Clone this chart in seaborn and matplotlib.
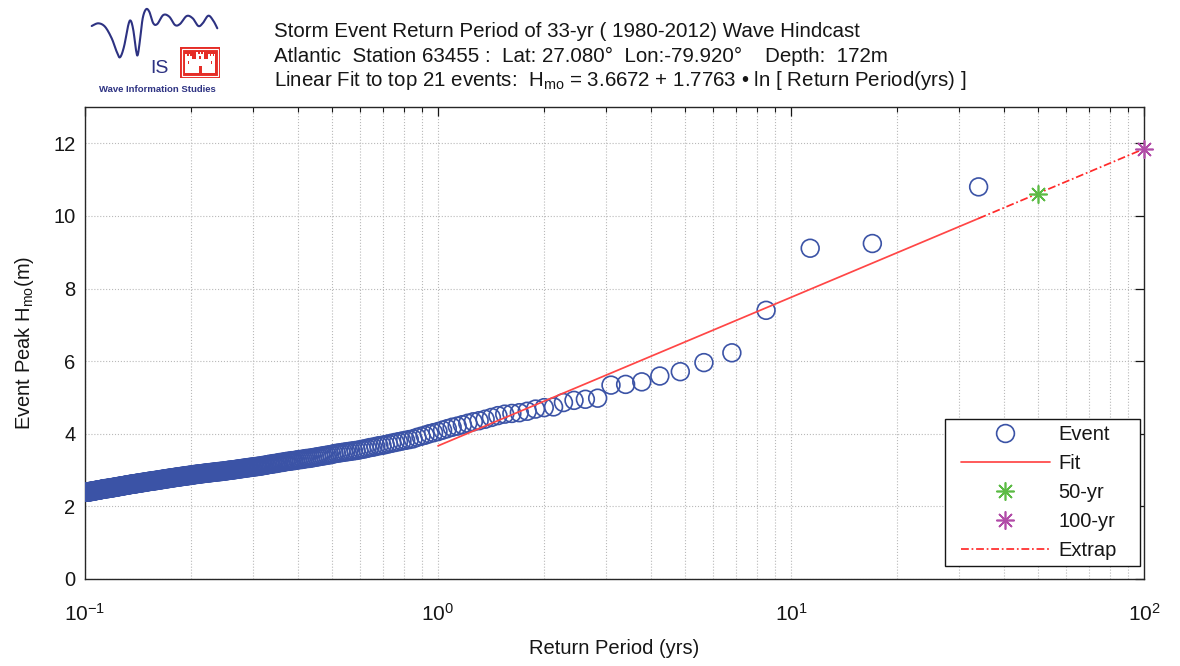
import numpy as np
import pandas as pd
import matplotlib
matplotlib.use("Agg")
import matplotlib.pyplot as plt
import seaborn as sns
from matplotlib.lines import Line2D
from matplotlib.patches import Rectangle
from matplotlib.path import Path
from matplotlib.ticker import (FixedLocator, LogLocator, NullFormatter,
                               LogFormatterSciNotation)

# ---------------- record description ----------------
region = "Atlantic"
station_id = 63455
latitude = 27.080
longitude = -79.920
depth_m = 172
first_year, last_year = 1980, 2012
years_of_record = 33

# ---------------- storm peak wave heights, largest first (m) ----------------
hmo_sorted = [
    10.80, 9.24, 9.11, 7.40, 6.23, 5.96, 5.71, 5.59, 5.43, 5.36,
    5.34, 4.98, 4.95, 4.92, 4.86, 4.74, 4.72, 4.68, 4.62, 4.58,
    4.56, 4.54, 4.50, 4.45, 4.40, 4.36, 4.33, 4.29, 4.25, 4.21,
    4.18, 4.14, 4.10, 4.06, 4.03, 4.00, 3.96, 3.93, 3.90, 3.86,
    3.84, 3.82, 3.80, 3.78, 3.76, 3.74, 3.72, 3.70, 3.68, 3.67,
    3.65, 3.63, 3.62, 3.60, 3.58, 3.57, 3.55, 3.54, 3.53, 3.52,
    3.51, 3.50, 3.49, 3.48, 3.47, 3.46, 3.45, 3.43, 3.42, 3.41,
    3.40, 3.39, 3.38, 3.37, 3.36, 3.35, 3.34, 3.33, 3.32, 3.32,
    3.31, 3.30, 3.29, 3.29, 3.28, 3.27, 3.26, 3.26, 3.25, 3.24,
    3.24, 3.23, 3.22, 3.21, 3.21, 3.20, 3.19, 3.18, 3.18, 3.17,
    3.16, 3.16, 3.15, 3.14, 3.13, 3.13, 3.12, 3.11, 3.11, 3.10,
    3.10, 3.09, 3.09, 3.08, 3.08, 3.07, 3.07, 3.06, 3.06, 3.05,
    3.05, 3.04, 3.04, 3.03, 3.03, 3.02, 3.02, 3.01, 3.01, 3.00,
    3.00, 3.00, 2.99, 2.99, 2.98, 2.98, 2.97, 2.97, 2.97, 2.96,
    2.96, 2.96, 2.95, 2.95, 2.95, 2.94, 2.94, 2.94, 2.93, 2.93,
    2.93, 2.92, 2.92, 2.92, 2.91, 2.91, 2.91, 2.90, 2.90, 2.90,
    2.89, 2.89, 2.89, 2.88, 2.88, 2.88, 2.87, 2.87, 2.86, 2.86,
    2.86, 2.85, 2.85, 2.85, 2.84, 2.84, 2.84, 2.83, 2.83, 2.83,
    2.82, 2.82, 2.82, 2.81, 2.81, 2.81, 2.80, 2.80, 2.80, 2.79,
    2.79, 2.79, 2.78, 2.78, 2.78, 2.77, 2.77, 2.77, 2.76, 2.76,
    2.76, 2.75, 2.75, 2.75, 2.74, 2.74, 2.74, 2.73, 2.73, 2.73,
    2.72, 2.72, 2.72, 2.71, 2.71, 2.71, 2.71, 2.70, 2.70, 2.70,
    2.69, 2.69, 2.69, 2.69, 2.68, 2.68, 2.68, 2.67, 2.67, 2.67,
    2.66, 2.66, 2.66, 2.66, 2.65, 2.65, 2.65, 2.64, 2.64, 2.64,
    2.64, 2.63, 2.63, 2.63, 2.62, 2.62, 2.62, 2.62, 2.61, 2.61,
    2.61, 2.61, 2.60, 2.60, 2.60, 2.59, 2.59, 2.59, 2.59, 2.58,
    2.58, 2.58, 2.57, 2.57, 2.57, 2.57, 2.56, 2.56, 2.56, 2.55,
    2.55, 2.55, 2.55, 2.54, 2.54, 2.54, 2.53, 2.53, 2.53, 2.53,
    2.52, 2.52, 2.52, 2.52, 2.51, 2.51, 2.51, 2.51, 2.50, 2.50,
    2.50, 2.50, 2.49, 2.49, 2.49, 2.49, 2.49, 2.49, 2.48, 2.48,
    2.48, 2.48, 2.47, 2.47, 2.47, 2.46, 2.46, 2.46, 2.46, 2.45,
    2.45, 2.45, 2.45, 2.44, 2.44, 2.44, 2.44, 2.43, 2.43, 2.43,
    2.43, 2.42, 2.42, 2.42, 2.42, 2.41, 2.41, 2.41, 2.41, 2.41,
    2.40, 2.40, 2.40, 2.40, 2.40, 2.39, 2.39, 2.39, 2.39, 2.39,
]

# ---------------- log-linear fit: Hmo = a + b * ln(T) ----------------
n_fit_events = 21
fit_intercept = 3.6672
fit_slope = 1.7763
fit_start_period = 1.0
design_periods = [50, 100]
design_labels = ["50-yr", "100-yr"]

# ---------------- axes ----------------
x_limits = (0.1, 100)
y_limits = (0, 13)
x_ticks = [0.1, 1, 10, 100]
y_ticks = [0, 2, 4, 6, 8, 10, 12]

# ---------------- styling ----------------
event_blue = "#3b53a6"
fit_red = "#ff4646"
extrap_red = "#ff2a2a"
green_50 = "#5cbb45"
magenta_100 = "#b24ca8"
navy = "#2d3282"
castle_red = "#e52d27"
text_color = "#161616"
grid_color = "#b9b9b9"

sns.set_style("white")
plt.rcParams["font.family"] = ["Liberation Sans", "DejaVu Sans"]
plt.rcParams["mathtext.fontset"] = "custom"
plt.rcParams["mathtext.rm"] = "Liberation Sans"
plt.rcParams["mathtext.it"] = "Liberation Sans:italic"
plt.rcParams["mathtext.bf"] = "Liberation Sans:bold"
plt.rcParams["mathtext.sf"] = "Liberation Sans"
plt.rcParams["mathtext.default"] = "regular"
plt.rcParams["axes.unicode_minus"] = True

W, H = 1180, 666
fig = plt.figure(figsize=(W / 100, H / 100), dpi=100)
fig.patch.set_facecolor("white")

# main axes, placed in pixel terms
ax_l, ax_r, ax_t, ax_b = 85, 1144, 107, 579
ax = fig.add_axes([ax_l / W, 1 - ax_b / H, (ax_r - ax_l) / W, (ax_b - ax_t) / H])

# ---------------- data frames ----------------
hmo = np.asarray(hmo_sorted)
rank = np.arange(1, len(hmo) + 1)
period = (years_of_record + 1) / rank
events = pd.DataFrame({"period": period, "hmo": hmo})

t_top = period.max()
fit_T = np.geomspace(fit_start_period, t_top, 80)
fit_df = pd.DataFrame({"period": fit_T,
                       "hmo": fit_intercept + fit_slope * np.log(fit_T)})
ext_T = np.geomspace(t_top, max(design_periods), 60)
ext_df = pd.DataFrame({"period": ext_T,
                       "hmo": fit_intercept + fit_slope * np.log(ext_T)})
design_h = [fit_intercept + fit_slope * np.log(p) for p in design_periods]

ax.set_xscale("log")

# events
event_size = 12.8  # marker diameter in points
sns.scatterplot(data=events, x="period", y="hmo", ax=ax, marker="o",
                s=event_size ** 2, facecolor="none", edgecolor=event_blue,
                linewidth=1.2, legend=False, zorder=3)

# fitted line and its extrapolation
dash_dot = (0, (4.5, 1.6, 1.0, 1.6))
sns.lineplot(data=fit_df, x="period", y="hmo", ax=ax, color=fit_red,
             linewidth=1.25, zorder=4)
sns.lineplot(data=ext_df, x="period", y="hmo", ax=ax, color=extrap_red,
             linewidth=1.25, linestyle=dash_dot, zorder=4)

# design return-period estimates
asterisk = (8, 2, 0)
for p, h, c in zip(design_periods, design_h, [green_50, magenta_100]):
    ax.plot([p], [h], linestyle="none", marker=asterisk, markersize=13,
            markeredgewidth=1.2, color=c, clip_on=False, zorder=6)

# ---------------- axes formatting ----------------
ax.set_xlim(*x_limits)
ax.set_ylim(*y_limits)
ax.xaxis.set_major_locator(FixedLocator(x_ticks))
ax.xaxis.set_major_formatter(LogFormatterSciNotation())
ax.xaxis.set_minor_locator(LogLocator(base=10, subs=np.arange(2, 10)))
ax.xaxis.set_minor_formatter(NullFormatter())
ax.yaxis.set_major_locator(FixedLocator(y_ticks))

ax.tick_params(which="both", direction="in", top=True, right=True,
               colors=text_color, labelcolor=text_color)
ax.tick_params(axis="y", labelsize=14.5)
ax.tick_params(axis="x", labelsize=15)
ax.tick_params(which="major", length=6.5, width=0.9)
ax.tick_params(which="minor", length=3.8, width=0.8)
ax.tick_params(axis="x", which="major", pad=17)
ax.tick_params(axis="y", which="major", pad=7)

ax.grid(True, which="major", axis="both", linestyle=":", linewidth=0.8,
        color=grid_color)
ax.grid(True, which="minor", axis="x", linestyle=":", linewidth=0.8,
        color=grid_color)
ax.set_axisbelow(True)
for sp in ax.spines.values():
    sp.set_visible(True)
    sp.set_color("#262626")
    sp.set_linewidth(1.0)

ax.set_xlabel("Return Period (yrs)", fontsize=14.5, color=text_color)
ax.xaxis.set_label_coords(0.5, -0.127)
ax.set_ylabel(r"Event Peak H$_{mo}$(m)", fontsize=14.5, color=text_color)
ax.yaxis.set_label_coords(-0.046, 0.5)

# ---------------- legend ----------------
handles = [
    Line2D([], [], linestyle="none", marker="o", markersize=event_size,
           markerfacecolor="none", markeredgecolor=event_blue,
           markeredgewidth=1.2),
    Line2D([], [], color=fit_red, linewidth=1.25),
    Line2D([], [], linestyle="none", marker=asterisk, markersize=13,
           markeredgewidth=1.2, color=green_50),
    Line2D([], [], linestyle="none", marker=asterisk, markersize=13,
           markeredgewidth=1.2, color=magenta_100),
    Line2D([], [], color=extrap_red, linewidth=1.25, linestyle=dash_dot),
]
labels = ["Event", "Fit"] + design_labels + ["Extrap"]

pad_left_px, pad_right_px = 10, 17
leg = ax.legend(handles, labels, loc="lower right",
                bbox_to_anchor=((1140 - pad_right_px - ax_l) / (ax_r - ax_l),
                                (ax_b - 566) / (ax_b - ax_t)),
                borderaxespad=0, fontsize=14.5, frameon=True, fancybox=False,
                edgecolor=text_color, framealpha=1, borderpad=0.3,
                labelspacing=0.5, handlelength=4.4, handletextpad=0.45)
leg.get_frame().set_linewidth(1.0)
for t in leg.get_texts():
    t.set_color(text_color)


def legend_box(x0, y0, width, height, mutation_size):
    """Square frame with extra horizontal room on both sides."""
    xa, xb = x0 - pad_left_px, x0 + width + pad_right_px
    return Path([(xa, y0), (xb, y0), (xb, y0 + height), (xa, y0 + height),
                 (xa, y0)], closed=True)


leg.legendPatch.set_boxstyle(legend_box)

# ---------------- heading ----------------
head_x = 274 / W
head_size = 14.8
fig.text(head_x, 1 - 37 / H,
         f"Storm Event Return Period of {years_of_record}-yr "
         f"( {first_year}-{last_year}) Wave Hindcast",
         fontsize=head_size, color=text_color, va="baseline", ha="left")
fig.text(head_x, 1 - 62 / H,
         f"{region}  Station {station_id} :  Lat: {latitude:.3f}\u00b0  "
         f"Lon:{longitude:.3f}\u00b0    Depth:  {depth_m}m",
         fontsize=head_size, color=text_color, va="baseline", ha="left")
fig.text(head_x, 1 - 86 / H,
         f"Linear Fit to top {n_fit_events} events:  H$_{{mo}}$ = "
         f"{fit_intercept:.4f} + {fit_slope:.4f} \u2022 ln [ Return Period(yrs) ]",
         fontsize=head_size, color=text_color, va="baseline", ha="left")

# ---------------- WIS / USACE emblem ----------------
lg = fig.add_axes([80 / W, 1 - 100 / H, 150 / W, 100 / H])
lg.set_xlim(80, 230)
lg.set_ylim(100, 0)
lg.axis("off")


def catmull_rom(pts, n=14):
    p = np.asarray(pts, float)
    p = np.vstack([p[0], p, p[-1]])
    segs = []
    t = np.linspace(0, 1, n, endpoint=False)[:, None]
    for i in range(1, len(p) - 2):
        p0, p1, p2, p3 = p[i - 1], p[i], p[i + 1], p[i + 2]
        segs.append(0.5 * (2 * p1 + (-p0 + p2) * t
                           + (2 * p0 - 5 * p1 + 4 * p2 - p3) * t ** 2
                           + (-p0 + 3 * p1 - 3 * p2 + p3) * t ** 3))
    segs.append(p[-2][None])
    return np.vstack(segs)


wave_outline = [
    (91.7, 26), (98.3, 23.3), (105, 26.7), (111.7, 38.3), (116.7, 51.7),
    (120, 57.3), (124, 46.7), (128.3, 25), (130.7, 20.7), (133.3, 30),
    (136, 50), (137.7, 55), (140, 40), (142.7, 18.3), (146, 9.3),
    (149.3, 11.7), (153.3, 23.3), (157.3, 24), (163.3, 15), (169.3, 16.7),
    (175, 25), (180, 24), (186.7, 16), (192.7, 18.3), (198.3, 26),
    (202.7, 23.3), (208.3, 15.7), (213.3, 20.7), (217.3, 28.3),
]
wave = catmull_rom(wave_outline)
lg.plot(wave[:, 0], wave[:, 1], color=navy, linewidth=1.5,
        solid_capstyle="round")
lg.text(150, 73, "IS", fontsize=14, color=navy, ha="left", va="baseline")
lg.text(157.5, 89, "Wave Information Studies", fontsize=6.8,
        fontweight="bold", color=navy, ha="center", va="center")

# castle badge
lg.add_patch(Rectangle((180, 47), 40, 31, facecolor=castle_red,
                       edgecolor="none"))
lg.add_patch(Rectangle((182.3, 49.3), 35.4, 26.4, fill=False,
                       edgecolor="white", linewidth=0.8))
for rx, ry, rw, rh in [(187, 59, 26, 14), (185, 54, 7, 19), (208, 54, 7, 19),
                       (196, 52, 8, 9)]:
    lg.add_patch(Rectangle((rx, ry), rw, rh, facecolor="white",
                           edgecolor="none"))
for rx, ry, rw, rh in [(187, 54, 1.5, 1.8), (190, 54, 1.5, 1.8),
                       (209.5, 54, 1.5, 1.8), (212.5, 54, 1.5, 1.8),
                       (198.3, 52, 1.4, 1.6), (201.3, 52, 1.4, 1.6),
                       (198.5, 66, 3, 7), (187.8, 61, 1.5, 3),
                       (210.7, 61, 1.5, 3), (199.3, 56, 1.4, 2.6)]:
    lg.add_patch(Rectangle((rx, ry), rw, rh, facecolor=castle_red,
                           edgecolor="none"))

fig.savefig("out.png", dpi=100, facecolor="white")
